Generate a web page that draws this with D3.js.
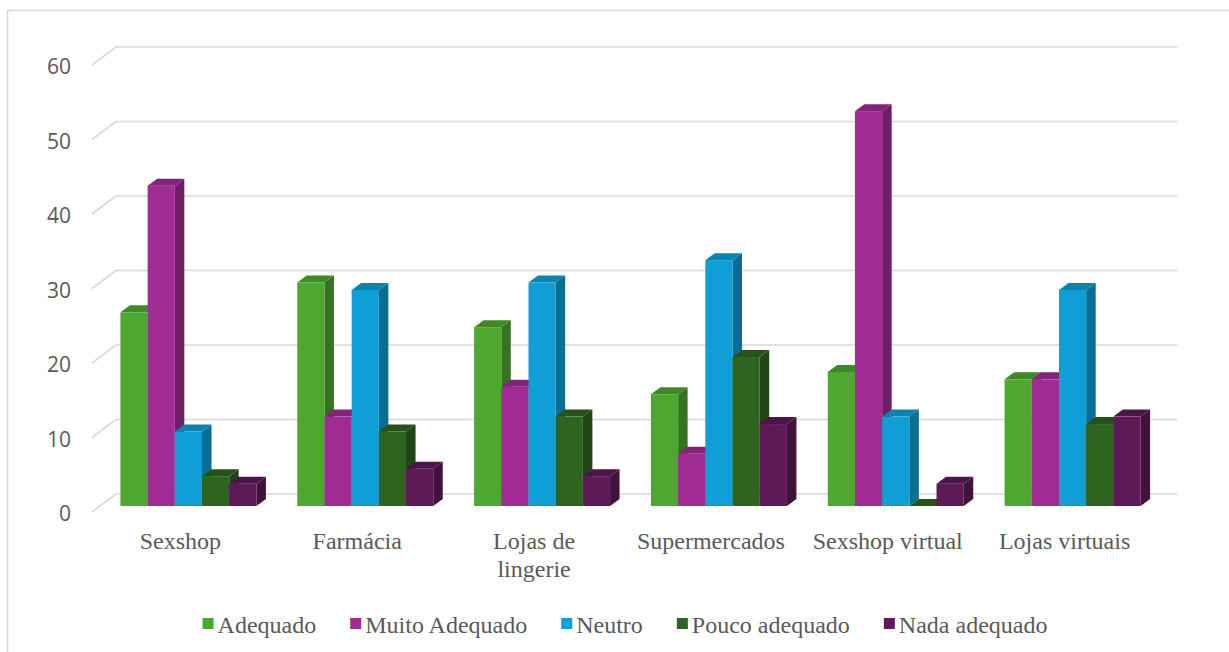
<!DOCTYPE html>
<html>
<head>
<meta charset="utf-8">
<script src="https://cdn.jsdelivr.net/npm/d3@7"></script>
<style>
  html, body { margin: 0; padding: 0; background: #fff; }
  svg { display: block; }
</style>
</head>
<body>
<svg id="chart" width="1229" height="652"></svg>
<script>
// Categories, series and values
const categories = ["Sexshop", "Farmácia", "Lojas de lingerie", "Supermercados", "Sexshop virtual", "Lojas virtuais"];
const seriesNames = ["Adequado", "Muito Adequado", "Neutro", "Pouco adequado", "Nada adequado"];
const adequado      = [26, 30, 24, 15, 18, 17];
const muitoAdequado = [43, 12, 16, 7, 53, 17];
const neutro        = [10, 29, 30, 33, 12, 29];
const poucoAdequado = [4, 10, 12, 20, 0, 11];
const nadaAdequado  = [3, 5, 4, 11, 3, 12];
const yTicks = [0, 10, 20, 30, 40, 50, 60];
const seriesColors = ["#4EA72E", "#A02B93", "#0F9ED5", "#2F6420", "#5E1A56"];

const seriesValues = [adequado, muitoAdequado, neutro, poucoAdequado, nadaAdequado];

const svg = d3.select("#chart");
const textColor = "#595959";
const gridColor = "#d9d9d9";

// Outer chart frame
svg.append("rect")
  .attr("x", 7.5).attr("y", 10.5)
  .attr("width", 1240).attr("height", 660)
  .attr("fill", "none").attr("stroke", gridColor).attr("stroke-width", 1.5);

// Back wall geometry and 3D offsets
const wallLeft = 116, wallRight = 1177;
const floorDx = -24, floorDy = 18;        // back wall -> front edge of floor
const frontDx = -16, frontDy = 12;        // back wall -> front face of bars
const depthDx = 9.5, depthDy = -7;        // bar depth (front -> back)

const y = d3.scaleLinear().domain([0, 60]).range([494, 47]);
const x0 = d3.scaleBand().domain(categories).range([wallLeft, wallRight]).padding(0);
const groupPad = x0.bandwidth() * 0.1155;
const x1 = d3.scaleBand().domain(seriesNames).range([groupPad, x0.bandwidth() - groupPad]).padding(0);

// Gridlines: back wall line plus side wall diagonal
const grid = svg.append("g");
yTicks.forEach(t => {
  const yy = y(t);
  grid.append("line")
    .attr("x1", wallLeft).attr("x2", wallRight)
    .attr("y1", yy).attr("y2", yy)
    .attr("stroke", gridColor).attr("stroke-width", 1.6);
  grid.append("line")
    .attr("x1", wallLeft + floorDx).attr("y1", yy + floorDy)
    .attr("x2", wallLeft).attr("y2", yy)
    .attr("stroke", gridColor).attr("stroke-width", 1.6);
});

// Value axis labels
const yAxis = d3.axisLeft(y).tickValues(yTicks).tickSize(0).tickPadding(0);
const yAxisG = svg.append("g")
  .attr("transform", `translate(${wallLeft + floorDx - 21},${floorDy + 2})`)
  .call(yAxis);
yAxisG.select(".domain").remove();
yAxisG.selectAll("text")
  .attr("fill", textColor)
  .style("font-family", "'Open Sans', 'Liberation Sans', sans-serif")
  .style("font-size", "21px");

// 3D columns
const bars = svg.append("g");
categories.forEach((cat, ci) => {
  seriesNames.forEach((s, si) => {
    const v = seriesValues[si][ci];
    const color = d3.color(seriesColors[si]);
    const left = x0(cat) + x1(s) + frontDx;
    const right = left + x1.bandwidth();
    const bottom = y(0) + frontDy;
    const top = y(v) + frontDy;
    const g = bars.append("g");
    // right side face
    g.append("path")
      .attr("d", `M${right},${bottom} L${right + depthDx},${bottom + depthDy} L${right + depthDx},${top + depthDy} L${right},${top} Z`)
      .attr("fill", color.darker(1.05));
    // top face
    g.append("path")
      .attr("d", `M${left},${top} L${left + depthDx},${top + depthDy} L${right + depthDx},${top + depthDy} L${right},${top} Z`)
      .attr("fill", color.darker(0.55));
    // front face
    g.append("rect")
      .attr("x", left).attr("y", top)
      .attr("width", x1.bandwidth()).attr("height", bottom - top)
      .attr("fill", color);
  });
});

// Category labels (wrapped when wider than the band)
const catG = svg.append("g")
  .style("font-family", "'Liberation Serif', 'Times New Roman', serif")
  .style("font-size", "24px")
  .attr("fill", textColor)
  .attr("text-anchor", "middle");
categories.forEach(cat => {
  const cx = x0(cat) + x0.bandwidth() / 2 + floorDx;
  const t = catG.append("text").attr("x", cx).attr("y", 549);
  const words = cat.split(" ");
  let line = [];
  let tspan = t.append("tspan").attr("x", cx).attr("dy", 0);
  let lineNo = 0;
  words.forEach(w => {
    line.push(w);
    tspan.text(line.join(" "));
    if (tspan.node().getComputedTextLength() > 158 && line.length > 1) {
      line.pop();
      tspan.text(line.join(" "));
      line = [w];
      lineNo++;
      tspan = t.append("tspan").attr("x", cx).attr("dy", 28).text(w);
    }
  });
});

// Legend
const legend = svg.append("g")
  .style("font-family", "'Liberation Serif', 'Times New Roman', serif")
  .style("font-size", "24px");
let lx = 0;
const items = [];
seriesNames.forEach((s, i) => {
  const item = legend.append("g").attr("transform", `translate(${lx},0)`);
  item.append("rect").attr("x", 0).attr("y", 618).attr("width", 11).attr("height", 11)
    .attr("fill", seriesColors[i]);
  const tx = item.append("text").attr("x", 15).attr("y", 633).attr("fill", textColor).text(s);
  const w = tx.node().getComputedTextLength();
  lx += 15 + w + 34;
});
const legendWidth = lx - 34;
legend.attr("transform", `translate(${625 - legendWidth / 2},0)`);
</script>
</body>
</html>
